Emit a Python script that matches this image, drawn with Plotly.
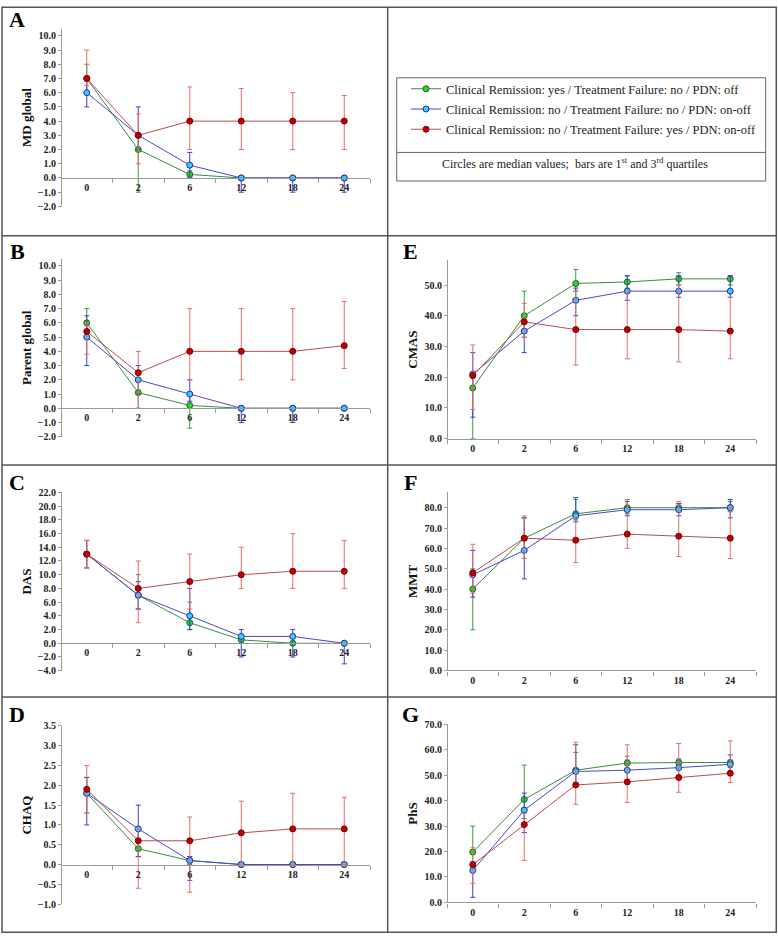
import plotly.graph_objects as go

W, H = 778, 941

# ---------------- data ----------------
months = ["0", "2", "6", "12", "18", "24"]
group_names = [
    "Clinical Remission: yes / Treatment Failure: no / PDN: off",
    "Clinical Remission: no / Treatment Failure: no / PDN: on-off",
    "Clinical Remission: no / Treatment Failure: yes / PDN: on-off",
]
panel_letters = ["A", "B", "C", "D", "E", "F", "G"]
y_titles = ["MD global", "Parent global", "DAS", "CHAQ", "CMAS", "MMT", "PhS"]

# A - MD global
md_green = [7.0, 2.0, 0.25, 0, 0, 0]
md_green_q1 = [6.0, -1.0, 0, 0, 0, 0]
md_green_q3 = [8.0, 3.0, 0.5, 0, 0, 0]
md_blue = [6.0, 3.0, 0.9, 0, 0, 0]
md_blue_q1 = [5.0, 2.0, 0, -1.0, -1.0, -1.0]
md_blue_q3 = [7.0, 5.0, 1.8, 0, 0, 0]
md_red = [7.0, 3.0, 4.0, 4.0, 4.0, 4.0]
md_red_q1 = [6.5, 1.0, 2.0, 2.0, 2.0, 2.0]
md_red_q3 = [9.0, 4.5, 6.4, 6.3, 6.0, 5.8]

# B - Parent global
pg_green = [6.0, 1.1, 0.2, 0, 0, 0]
pg_green_q1 = [5.0, 0, -1.4, 0, 0, 0]
pg_green_q3 = [7.0, 2.0, 1.0, 0, 0, 0]
pg_blue = [5.0, 2.0, 1.0, 0, 0, 0]
pg_blue_q1 = [3.0, 1.0, 0.5, -1.0, -1.0, 0]
pg_blue_q3 = [6.5, 3.0, 2.0, 0, 0, 0]
pg_red = [5.4, 2.5, 4.0, 4.0, 4.0, 4.4]
pg_red_q1 = [3.8, 0, 2.0, 2.0, 2.0, 2.8]
pg_red_q3 = [6.0, 4.0, 7.0, 7.0, 7.0, 7.5]

# C - DAS
das_green = [13, 7, 3, 0.5, 0, 0]
das_green_q1 = [11, 5, 2, 0, 0, 0]
das_green_q3 = [15, 10, 6, 1, 0, 0]
das_blue = [13, 7, 4, 1, 1, 0]
das_blue_q1 = [11, 5, 2, -2, -2, -3]
das_blue_q3 = [15, 9, 8, 2, 2, 0]
das_red = [13, 8, 9, 10, 10.5, 10.5]
das_red_q1 = [11, 3, 5, 8, 8, 8]
das_red_q3 = [15, 12, 13, 14, 16, 15]

# D - CHAQ
chaq_green = [1.8, 0.4, 0.1, 0, 0, 0]
chaq_green_q1 = [1.3, 0.2, 0, 0, 0, 0]
chaq_green_q3 = [2.2, 0.9, 0.2, 0, 0, 0]
chaq_blue = [1.8, 0.9, 0.1, 0, 0, 0]
chaq_blue_q1 = [1.0, 0.2, -0.4, 0, 0, 0]
chaq_blue_q3 = [2.2, 1.5, 0.2, 0, 0, 0]
chaq_red = [1.9, 0.6, 0.6, 0.8, 0.9, 0.9]
chaq_red_q1 = [1.3, -0.6, -0.7, 0, 0, 0]
chaq_red_q3 = [2.5, 0.9, 1.2, 1.6, 1.8, 1.7]

# E - CMAS
cmas_green = [16.5, 40, 50.5, 51, 52, 52]
cmas_green_q1 = [0, 33, 48, 49, 50, 50]
cmas_green_q3 = [21, 48, 55, 53, 54, 53]
cmas_blue = [21, 35, 45, 48, 48, 48]
cmas_blue_q1 = [7, 28, 40, 45, 46, 46]
cmas_blue_q3 = [28, 38, 49, 53, 53, 53]
cmas_red = [20.5, 38, 35.5, 35.5, 35.5, 35]
cmas_red_q1 = [9.5, 33, 24, 26, 25, 26]
cmas_red_q3 = [30.5, 44, 48, 48, 50, 46]

# F - MMT
mmt_green = [40, 65, 77, 80, 80, 80]
mmt_green_q1 = [20, 55, 74, 77, 78, 78]
mmt_green_q3 = [50, 75, 84, 84, 82, 83]
mmt_blue = [47, 59, 76, 79, 79, 80]
mmt_blue_q1 = [36, 45, 73, 76, 76, 75]
mmt_blue_q3 = [59, 75, 85, 83, 82, 84]
mmt_red = [48, 65, 64, 67, 66, 65]
mmt_red_q1 = [38, 55, 53, 60, 56, 55]
mmt_red_q3 = [62, 76, 75, 84, 83, 80]

# G - PhS
phs_green = [19.8, 40.5, 52, 54.8, 55, 55]
phs_green_q1 = [14, 33, 47, 52, 53, 53]
phs_green_q3 = [30, 54, 59, 57.5, 56.5, 56]
phs_blue = [12.6, 36.3, 51.5, 52, 53, 54.3]
phs_blue_q1 = [2, 27.5, 47, 48, 50, 51]
phs_blue_q3 = [16, 43, 62, 56, 56, 58]
phs_red = [14.8, 30.6, 46.2, 47.4, 49.1, 50.8]
phs_red_q1 = [7.5, 16.5, 38.6, 39.3, 43.3, 47.2]
phs_red_q3 = [21.5, 35, 63, 62, 62.5, 63.5]

panel_data = [
    [(md_green, md_green_q1, md_green_q3), (md_blue, md_blue_q1, md_blue_q3), (md_red, md_red_q1, md_red_q3)],
    [(pg_green, pg_green_q1, pg_green_q3), (pg_blue, pg_blue_q1, pg_blue_q3), (pg_red, pg_red_q1, pg_red_q3)],
    [(das_green, das_green_q1, das_green_q3), (das_blue, das_blue_q1, das_blue_q3), (das_red, das_red_q1, das_red_q3)],
    [(chaq_green, chaq_green_q1, chaq_green_q3), (chaq_blue, chaq_blue_q1, chaq_blue_q3), (chaq_red, chaq_red_q1, chaq_red_q3)],
    [(cmas_green, cmas_green_q1, cmas_green_q3), (cmas_blue, cmas_blue_q1, cmas_blue_q3), (cmas_red, cmas_red_q1, cmas_red_q3)],
    [(mmt_green, mmt_green_q1, mmt_green_q3), (mmt_blue, mmt_blue_q1, mmt_blue_q3), (mmt_red, mmt_red_q1, mmt_red_q3)],
    [(phs_green, phs_green_q1, phs_green_q3), (phs_blue, phs_blue_q1, phs_blue_q3), (phs_red, phs_red_q1, phs_red_q3)],
]

# ---------------- styles / layout ----------------
SERIF = "Liberation Serif, Times New Roman, serif"
group_styles = [
    dict(line="#3d8b3d", fill="#2ed12e", edge="#1d6b1d", err="#3f9a3f"),
    dict(line="#4848cc", fill="#33ccff", edge="#2a2aa8", err="#3c3cd6"),
    dict(line="#b84c4c", fill="#c00000", edge="#780000", err="#e86c6c"),
]

# (x0px, x1px, top_px, bottom_px, ymin, ymax, dtick, letter_x, letter_y)
panel_geom = [
    (61, 370, 23.0, 203.0, -2, 10.5, 1, 17, 14),
    (61, 370, 256.1, 436.3, -2, 10.5, 1, 17, 249),
    (61, 370, 492.7, 673.3, -4, 22, 2, 17, 483),
    (61, 370, 729.3, 909.7, -1, 3.5, 0.5, 17, 718),
    (447, 756, 257.7, 438.3, 0, 58, 10, 411, 249),
    (447, 756, 492.7, 673.0, 0, 87.5, 10, 411, 483),
    (447, 756, 727.7, 908.0, 0, 70, 10, 411, 718),
]

def fx(px):
    return px / W

def fy(py):
    return 1 - py / H

fig = go.Figure()
layout = dict(
    width=W, height=H,
    margin=dict(l=0, r=0, t=0, b=0),
    paper_bgcolor="white", plot_bgcolor="rgba(0,0,0,0)",
    showlegend=True,
    legend=dict(
        x=fx(406), y=fy(69), xanchor="left", yanchor="top",
        font=dict(family=SERIF, size=12.5, color="#222"),
        bgcolor="rgba(0,0,0,0)", tracegroupgap=1,
    ),
)
annotations = []
shapes = []

AXIS_COLOR = "#9a9a9a"
for i, (geom, series) in enumerate(zip(panel_geom, panel_data)):
    x0, x1, top, bot, ymin, ymax, dtick, lx, ly = geom
    n = "" if i == 0 else str(i + 1)
    ydom = [fy(bot), fy(top)]
    zero_pos = ydom[0] + (0 - ymin) / (ymax - ymin) * (ydom[1] - ydom[0])
    layout["xaxis" + n] = dict(
        type="category", categoryorder="array", categoryarray=months,
        range=[-0.5, 5.5], domain=[fx(x0), fx(x1)],
        anchor="free", position=zero_pos,
        showline=True, linecolor=AXIS_COLOR, linewidth=1.2,
        ticks="outside", ticklen=4, tickcolor=AXIS_COLOR, tickson="boundaries",
        tickfont=dict(family=SERIF, size=10, color="#222", weight="bold"),
        showgrid=False, zeroline=False, fixedrange=True,
    )
    layout["yaxis" + n] = dict(
        domain=ydom, anchor="free", position=fx(x0),
        range=[ymin, ymax], tick0=ymin, dtick=dtick, tickformat=".1f",
        showline=True, linecolor=AXIS_COLOR, linewidth=1.2,
        ticks="outside", ticklen=3, tickcolor=AXIS_COLOR,
        tickfont=dict(family=SERIF, size=10, color="#222", weight="bold"),
        title=dict(text=y_titles[i], standoff=2,
                   font=dict(family=SERIF, size=13, color="#111", weight="bold")),
        showgrid=False, zeroline=False, fixedrange=True,
    )
    for g, (med, q1, q3) in enumerate(series):
        st = group_styles[g]
        fig.add_trace(go.Scatter(
            x=months, y=med, xaxis="x" + n, yaxis="y" + n,
            mode="lines+markers", name=group_names[g], legendgroup=str(g),
            showlegend=(i == 0), cliponaxis=False,
            line=dict(color=st["line"], width=1),
            marker=dict(size=6, color=st["fill"], line=dict(color=st["edge"], width=1)),
            error_y=dict(type="data", symmetric=False,
                         array=[b - a for a, b in zip(med, q3)],
                         arrayminus=[a - b for a, b in zip(med, q1)],
                         color=st["err"], thickness=1, width=2.5),
        ))
    annotations.append(dict(
        x=fx(lx), y=fy(ly), xref="paper", yref="paper", text="<b>%s</b>" % panel_letters[i],
        showarrow=False, xanchor="center", yanchor="middle",
        font=dict(family=SERIF, size=22, color="black"),
    ))

# legend box footnote
annotations.append(dict(
    x=fx(575), y=fy(160), xref="paper", yref="paper",
    text="Circles are median values; &nbsp;bars are 1<sup>st</sup> and 3<sup>rd</sup> quartiles",
    showarrow=False, xanchor="center", yanchor="middle",
    font=dict(family=SERIF, size=12, color="#222"),
))

BORDER = "#555555"
# outer frame and cell dividers
shapes.append(dict(type="rect", xref="paper", yref="paper",
                   x0=fx(2), x1=fx(776.3), y0=fy(938.3), y1=fy(1.2),
                   line=dict(color=BORDER, width=1.5)))
shapes.append(dict(type="line", xref="paper", yref="paper",
                   x0=fx(387.7), x1=fx(387.7), y0=fy(938.3), y1=fy(1.2),
                   line=dict(color=BORDER, width=1.5)))
for yy in (232.7, 465.0, 700.0):
    shapes.append(dict(type="line", xref="paper", yref="paper",
                       x0=fx(2), x1=fx(776.3), y0=fy(yy), y1=fy(yy),
                       line=dict(color=BORDER, width=1.5)))
# legend box
shapes.append(dict(type="rect", xref="paper", yref="paper",
                   x0=fx(396.7), x1=fx(765.7), y0=fy(177.3), y1=fy(72.7),
                   line=dict(color="#666666", width=1)))
shapes.append(dict(type="line", xref="paper", yref="paper",
                   x0=fx(396.7), x1=fx(765.7), y0=fy(148.3), y1=fy(148.3),
                   line=dict(color="#666666", width=1)))

layout["annotations"] = annotations
layout["shapes"] = shapes
fig.update_layout(**layout)
fig.write_html(
    "out.html",
    config={"displayModeBar": False},
    post_script="document.body.style.margin='0px';document.body.style.overflow='hidden';",
)
